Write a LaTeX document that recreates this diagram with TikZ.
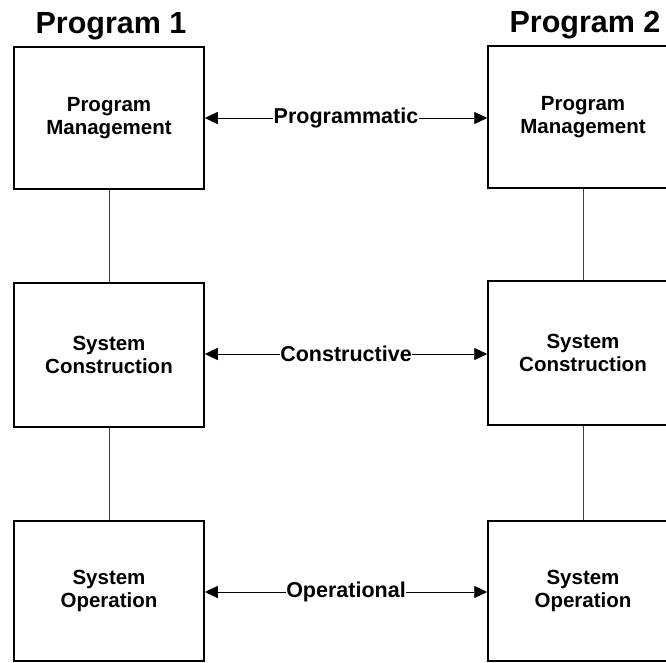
\documentclass[tikz,border=0pt]{standalone}
\usepackage{fontspec}
\setmainfont{Liberation Sans}
\usetikzlibrary{arrows.meta}
\begin{document}
\begin{tikzpicture}[x=1pt,y=-1pt,
  blk/.style={draw, line width=1.5pt, minimum width=190pt, minimum height=142pt,
    align=center, font=\fontsize{20.5}{23}\selectfont\bfseries, inner sep=0pt},
  ttl/.style={font=\fontsize{30.5}{34}\selectfont\bfseries, anchor=base},
  link/.style={line width=0.9pt, {Triangle[length=13pt,width=12pt]}-{Triangle[length=13pt,width=12pt]}},
  lbl/.style={fill=white, inner sep=0.5pt, font=\fontsize{21.5}{24}\selectfont\bfseries},
  vline/.style={line width=0.8pt, black!75}]
\useasboundingbox (0,0) rectangle (666,662);
\clip (0,0) rectangle (666,662);
\node[ttl] (t1) at (111,33) {Program 1};
\node[ttl] (t2) at (585,32) {Program 2};
\node[blk] (pm1) at (109,118) {Program\\Management};
\node[blk] (pm2) at (583,117) {Program\\Management};
\node[blk, minimum height=144pt] (sc1) at (109,355) {System\\Construction};
\node[blk, minimum height=144pt] (sc2) at (583,353) {System\\Construction};
\node[blk, minimum height=140pt] (so1) at (109,591) {System\\Operation};
\node[blk, minimum height=140pt] (so2) at (583,591) {System\\Operation};
\draw[vline] (pm1) -- (sc1);
\draw[vline] (sc1) -- (so1);
\draw[vline] (pm2) -- (sc2);
\draw[vline] (sc2) -- (so2);
\draw[link] (pm1.east |- 0,118) -- node[lbl] {Programmatic} (pm2.west |- 0,118);
\draw[link] (sc1.east |- 0,354) -- node[lbl] {Constructive} (sc2.west |- 0,354);
\draw[link] (so1.east |- 0,592) -- node[lbl] {Operational} (so2.west |- 0,592);
\end{tikzpicture}
\end{document}
